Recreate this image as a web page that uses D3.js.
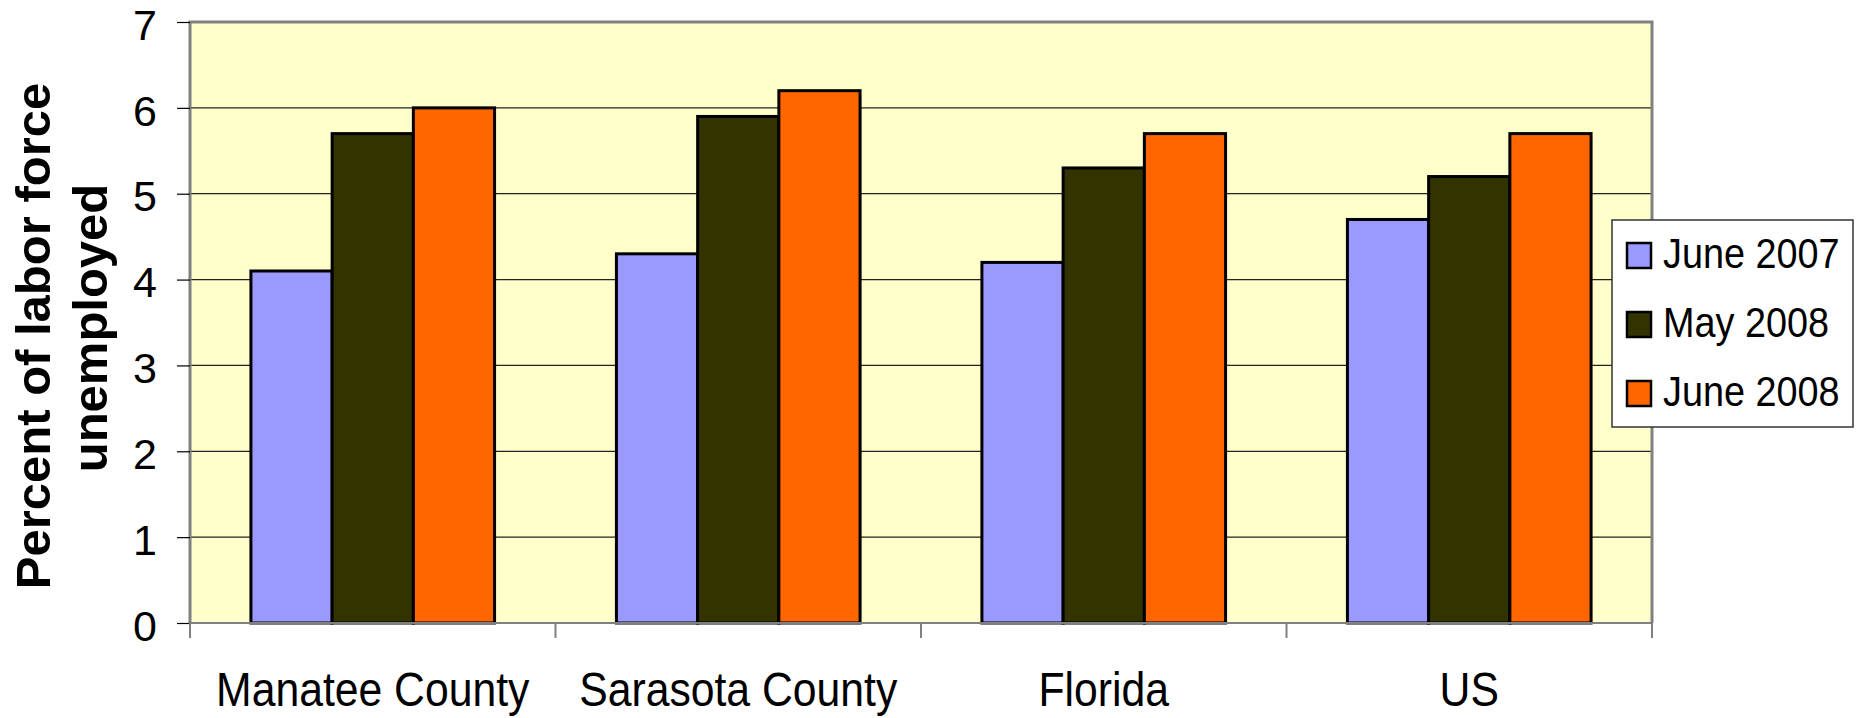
<!DOCTYPE html>
<html><head><meta charset="utf-8">
<script src="https://cdn.jsdelivr.net/npm/d3@7"></script>
<style>body{margin:0;background:#fff}svg{display:block}text{font-family:"Liberation Sans",Arial,sans-serif}</style>
</head><body><svg id="c" width="1860" height="718"></svg>
<script>
const categories = ["Manatee County", "Sarasota County", "Florida", "US"];
const seriesNames = ["June 2007", "May 2008", "June 2008"];
const june2007 = [4.1, 4.3, 4.2, 4.7];
const may2008 = [5.7, 5.9, 5.3, 5.2];
const june2008 = [6.0, 6.2, 5.7, 5.7];
const yTicks = [0, 1, 2, 3, 4, 5, 6, 7];
const colors = ["#9999FF", "#333300", "#FF6600"];
const seriesValues = [june2007, may2008, june2008];

const svg = d3.select("#c");
const L = 190, R = 1652, T = 22, B = 623;
const x0 = d3.scaleBand().domain(categories).range([L, R]).paddingInner(0).paddingOuter(0);
const bw = x0.bandwidth() / 4.5;
const x1 = d3.scaleBand().domain(seriesNames).range([0, bw * 3]);
const y = d3.scaleLinear().domain([0, 7]).range([B, T]);

// plot background
svg.append("rect").attr("x", L).attr("y", T).attr("width", R - L).attr("height", B - T).attr("fill", "#FFFFCC");

// gridlines
svg.append("g").selectAll("line").data(yTicks.filter(d => d > 0 && d < 7)).join("line")
  .attr("x1", L).attr("x2", R).attr("y1", d => y(d)).attr("y2", d => y(d))
  .attr("stroke", "#222").attr("stroke-width", 1.2);

// bars
const groups = svg.append("g").selectAll("g").data(categories).join("g")
  .attr("transform", d => `translate(${x0(d) + (x0.bandwidth() - bw * 3) / 2},0)`);
groups.selectAll("rect").data((c, i) => seriesNames.map((s, j) => ({s, v: seriesValues[j][i], j}))).join("rect")
  .attr("x", d => x1(d.s)).attr("width", x1.bandwidth())
  .attr("y", d => y(d.v)).attr("height", d => y(0) - y(d.v))
  .attr("fill", d => colors[d.j]).attr("stroke", "#000").attr("stroke-width", 3);

// plot border (top, right, left gray)
svg.append("path").attr("d", `M${L},${B}V${T}H${R}V${B}`).attr("fill", "none").attr("stroke", "#808080").attr("stroke-width", 3);

// y axis
const yAxis = d3.axisLeft(y).tickValues(yTicks).tickSize(13).tickPadding(20).tickFormat(d3.format("d"));
const gy = svg.append("g").attr("transform", `translate(${L},0)`).call(yAxis);
gy.select(".domain").attr("stroke", "#808080").attr("stroke-width", 2).attr("d", `M0,${T}V${B}`);
gy.selectAll(".tick line").attr("stroke", "#000").attr("stroke-width", 1.2);
gy.selectAll(".tick text").attr("font-size", 43).attr("fill", "#000")
  .attr("font-family", "Liberation Sans, Arial, sans-serif").attr("dy", "0.4em");

// x axis
const xAxis = d3.axisBottom(x0).tickSize(0).tickFormat("");
const gx = svg.append("g").attr("transform", `translate(0,${B})`).call(xAxis);
gx.select(".domain").attr("stroke", "#808080").attr("stroke-width", 2).attr("d", `M${L},0H${R}`);
const boundaries = categories.map(c => x0(c)).concat([x0(categories[categories.length - 1]) + x0.bandwidth()]);
gx.append("g").selectAll("line").data(boundaries).join("line")
  .attr("x1", d => d).attr("x2", d => d).attr("y1", 0).attr("y2", 15)
  .attr("stroke", "#808080").attr("stroke-width", 2);
gx.append("g").selectAll("text").data(categories).join("text")
  .attr("transform", d => `translate(${x0(d) + x0.bandwidth() / 2},${706 - B}) scale(0.89,1)`)
  .attr("text-anchor", "middle").attr("font-size", 48).attr("fill", "#000").text(d => d);

// y title
const title = svg.append("g").attr("font-weight", "bold").attr("font-size", 49).attr("fill", "#000");
title.append("text").attr("transform", "translate(50,336) rotate(-90)").attr("text-anchor", "middle").text("Percent of labor force");
title.append("text").attr("transform", "translate(107,328) rotate(-90)").attr("text-anchor", "middle").text("unemployed");

// legend
const lg = svg.append("g");
lg.append("rect").attr("x", 1612).attr("y", 220).attr("width", 241).attr("height", 207)
  .attr("fill", "#fff").attr("stroke", "#333").attr("stroke-width", 1.5);
const items = lg.selectAll("g").data(seriesNames).join("g")
  .attr("transform", (d, i) => `translate(1627,${243 + i * 69})`);
items.append("rect").attr("width", 24).attr("height", 25).attr("fill", (d, i) => colors[i])
  .attr("stroke", "#000").attr("stroke-width", 2.5);
items.append("text").attr("transform", "translate(36,25) scale(0.9,1)").attr("font-size", 42).attr("fill", "#000").text(d => d);
</script></body></html>
